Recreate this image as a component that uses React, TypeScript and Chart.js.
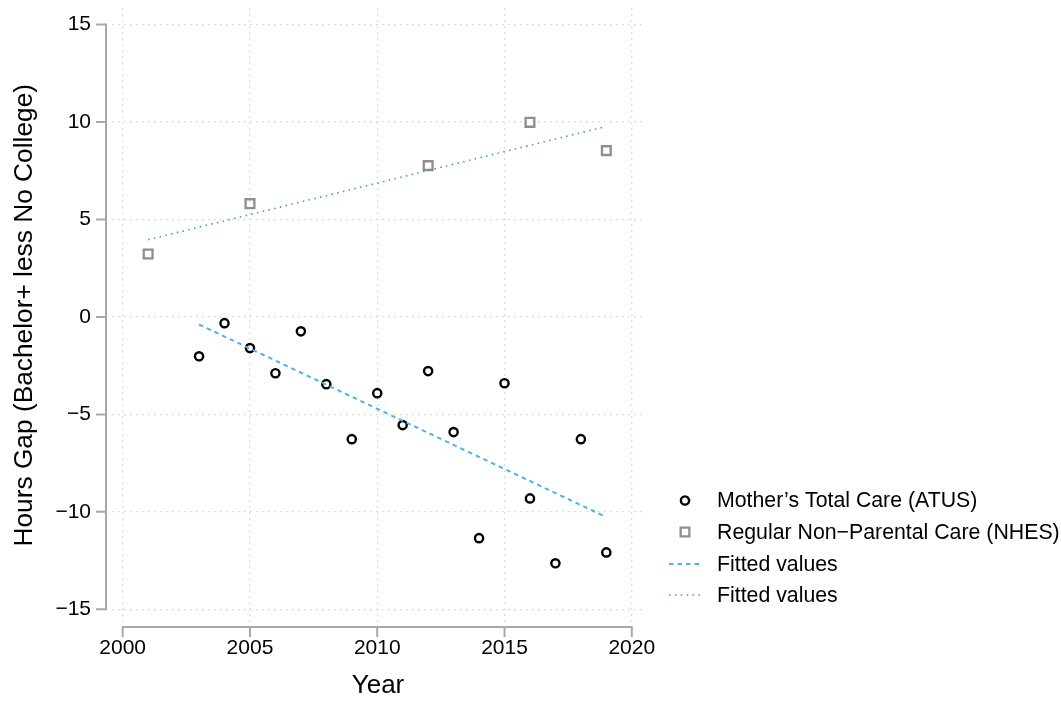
import React, { useEffect, useRef } from "react";
import { Chart, registerables } from "chart.js";

Chart.register(...registerables);

// ---- data ----
const atusYears = [2003, 2004, 2005, 2006, 2007, 2008, 2009, 2010, 2011, 2012, 2013, 2014, 2015, 2016, 2017, 2018, 2019];
const atusValues = [-2.02, -0.32, -1.6, -2.89, -0.74, -3.45, -6.27, -3.91, -5.55, -2.78, -5.91, -11.35, -3.4, -9.31, -12.64, -6.27, -12.08];
const nhesYears = [2001, 2005, 2012, 2016, 2019];
const nhesValues = [3.23, 5.81, 7.76, 9.98, 8.53];
const atusFitYears = [2003, 2019];
const atusFitValues = [-0.39, -10.27];
const nhesFitYears = [2001, 2019];
const nhesFitValues = [3.96, 9.77];
const xTicks = [2000, 2005, 2010, 2015, 2020];
const yTicks = [-15, -10, -5, 0, 5, 10, 15];
const seriesLabels = [
  "Mother\u2019s Total Care (ATUS)",
  "Regular Non\u2212Parental Care (NHES)",
  "Fitted values",
  "Fitted values",
];
const xTitle = "Year";
const yTitle = "Hours Gap (Bachelor+ less No College)";

// ---- styles ----
const FONT = "'Liberation Sans', Arial, Helvetica, sans-serif";
const TICK_SIZE = 21;
const LEGEND_SIZE = 21.3;
const AXIS_COLOR = "#a8a8a8";
const GRID_COLOR = "#d2d2d2";
const CIRCLE_COLOR = "#000000";
const SQUARE_COLOR = "#8e8e8e";
const BLUE = "#4fb2e6";
const TEAL = "#3aaa88";

const toPts = (xs: number[], ys: number[]) => xs.map((x, i) => ({ x, y: ys[i] }));
const fmt = (v: number) => (v < 0 ? "\u2212" + Math.abs(v) : String(v));

const stataPlugin = {
  id: "stataDecor",
  afterDraw(chart: any) {
    const { ctx, chartArea } = chart;
    const x = chart.scales.x;
    const y = chart.scales.y;
    ctx.save();
    // axes
    ctx.strokeStyle = AXIS_COLOR;
    ctx.lineWidth = 2;
    ctx.lineCap = "square";
    ctx.setLineDash([]);
    const axX = chartArea.left - 6;
    const yTop = y.getPixelForValue(yTicks[yTicks.length - 1]);
    const yBot = y.getPixelForValue(yTicks[0]);
    ctx.beginPath();
    ctx.moveTo(axX, yTop);
    ctx.lineTo(axX, yBot);
    yTicks.forEach((v) => {
      const p = y.getPixelForValue(v);
      ctx.moveTo(axX, p);
      ctx.lineTo(axX - 9, p);
    });
    const axY = chartArea.bottom + 5;
    const xL = x.getPixelForValue(xTicks[0]);
    const xR = x.getPixelForValue(xTicks[xTicks.length - 1]);
    ctx.moveTo(xL, axY);
    ctx.lineTo(xR, axY);
    xTicks.forEach((v) => {
      const p = x.getPixelForValue(v);
      ctx.moveTo(p, axY);
      ctx.lineTo(p, axY + 9);
    });
    ctx.stroke();

    // legend
    const legendX = 685;
    const textX = 717;
    const rowY = [500.5, 532, 564, 595];
    ctx.font = `${LEGEND_SIZE}px ${FONT}`;
    ctx.fillStyle = "#000";
    ctx.textBaseline = "middle";
    ctx.textAlign = "left";
    chart.data.datasets.forEach((ds: any, i: number) => {
      const cy = rowY[i];
      ctx.save();
      if (ds.showLine) {
        ctx.strokeStyle = ds.borderColor;
        ctx.lineWidth = ds.borderWidth;
        ctx.lineCap = "butt";
        ctx.setLineDash(ds.borderDash || []);
        ctx.beginPath();
        ctx.moveTo(legendX - 16, cy);
        ctx.lineTo(legendX + 16, cy);
        ctx.stroke();
      } else {
        ctx.strokeStyle = ds.borderColor;
        ctx.lineWidth = ds.borderWidth;
        ctx.setLineDash([]);
        ctx.beginPath();
        if (ds.pointStyle === "rect") {
          const s = Math.SQRT1_2 * ds.pointRadius;
          ctx.rect(legendX - s, cy - s, 2 * s, 2 * s);
        } else {
          ctx.arc(legendX, cy, ds.pointRadius, 0, Math.PI * 2);
        }
        ctx.stroke();
      }
      ctx.restore();
      ctx.fillText(ds.label, textX, cy + 1);
    });
    ctx.restore();
  },
};

export default function App() {
  const ref = useRef<HTMLCanvasElement | null>(null);

  useEffect(() => {
    if (!ref.current) return;
    const chart = new Chart(ref.current, {
      type: "scatter",
      data: {
        datasets: [
          {
            label: seriesLabels[0],
            data: toPts(atusYears, atusValues),
            pointStyle: "circle",
            pointRadius: 4.1,
            borderWidth: 2.4,
            borderColor: CIRCLE_COLOR,
            backgroundColor: "rgba(0,0,0,0)",
            showLine: false,
            order: 2,
          },
          {
            label: seriesLabels[1],
            data: toPts(nhesYears, nhesValues),
            pointStyle: "rect",
            pointRadius: 6.2,
            borderWidth: 2.3,
            borderColor: SQUARE_COLOR,
            backgroundColor: "rgba(0,0,0,0)",
            showLine: false,
            order: 3,
          },
          {
            label: seriesLabels[2],
            data: toPts(atusFitYears, atusFitValues),
            showLine: true,
            borderColor: BLUE,
            borderWidth: 2,
            borderDash: [4.5, 4],
            pointRadius: 0,
            fill: false,
            order: 1,
          },
          {
            label: seriesLabels[3],
            data: toPts(nhesFitYears, nhesFitValues),
            showLine: true,
            borderColor: TEAL,
            borderWidth: 1.6,
            borderDash: [1.5, 4.4],
            pointRadius: 0,
            fill: false,
            order: 0,
          },
        ] as any,
      },
      options: {
        animation: false,
        responsive: false,
        maintainAspectRatio: false,
        layout: { padding: { left: 0, top: 8, right: 417, bottom: 0 } },
        plugins: {
          legend: { display: false },
          tooltip: { enabled: false },
          title: { display: false },
        },
        scales: {
          x: {
            type: "linear",
            min: 1999.58,
            max: 2020.48,
            afterBuildTicks: (s: any) => {
              s.ticks = xTicks.map((v) => ({ value: v }));
            },
            afterFit: (s: any) => {
              s.height = 82;
              s.paddingLeft = 0;
              s.paddingRight = 0;
            },
            grid: { color: GRID_COLOR, lineWidth: 1.3, drawTicks: false },
            border: { display: false, dash: [1.5, 4.5] },
            ticks: {
              color: "#000",
              padding: 14,
              maxRotation: 0,
              autoSkip: false,
              font: { family: FONT, size: TICK_SIZE },
              callback: (v: any) => String(v),
            },
            title: {
              display: true,
              text: xTitle,
              color: "#000",
              font: { family: FONT, size: 26 },
              padding: { top: 0, bottom: 3 },
            },
          },
          y: {
            type: "linear",
            min: -15.65,
            max: 15.82,
            afterBuildTicks: (s: any) => {
              s.ticks = yTicks.map((v) => ({ value: v }));
            },
            afterFit: (s: any) => {
              s.width = 112;
              s.paddingTop = 0;
              s.paddingBottom = 0;
            },
            grid: { color: GRID_COLOR, lineWidth: 1.3, drawTicks: false },
            border: { display: false, dash: [1.5, 4.5] },
            ticks: {
              color: "#000",
              padding: 21,
              autoSkip: false,
              font: { family: FONT, size: TICK_SIZE },
              callback: (v: any) => fmt(Number(v)),
            },
            title: {
              display: true,
              text: yTitle,
              color: "#000",
              font: { family: FONT, size: 26.3 },
              padding: { top: 9, bottom: 0 },
            },
          },
        },
      } as any,
      plugins: [stataPlugin],
    });
    return () => chart.destroy();
  }, []);

  return (
    <div style={{ position: "fixed", left: 0, top: 0, width: 1061, height: 704, background: "#fff" }}>
      <canvas ref={ref} width={1061} height={704} style={{ display: "block" }} />
    </div>
  );
}
